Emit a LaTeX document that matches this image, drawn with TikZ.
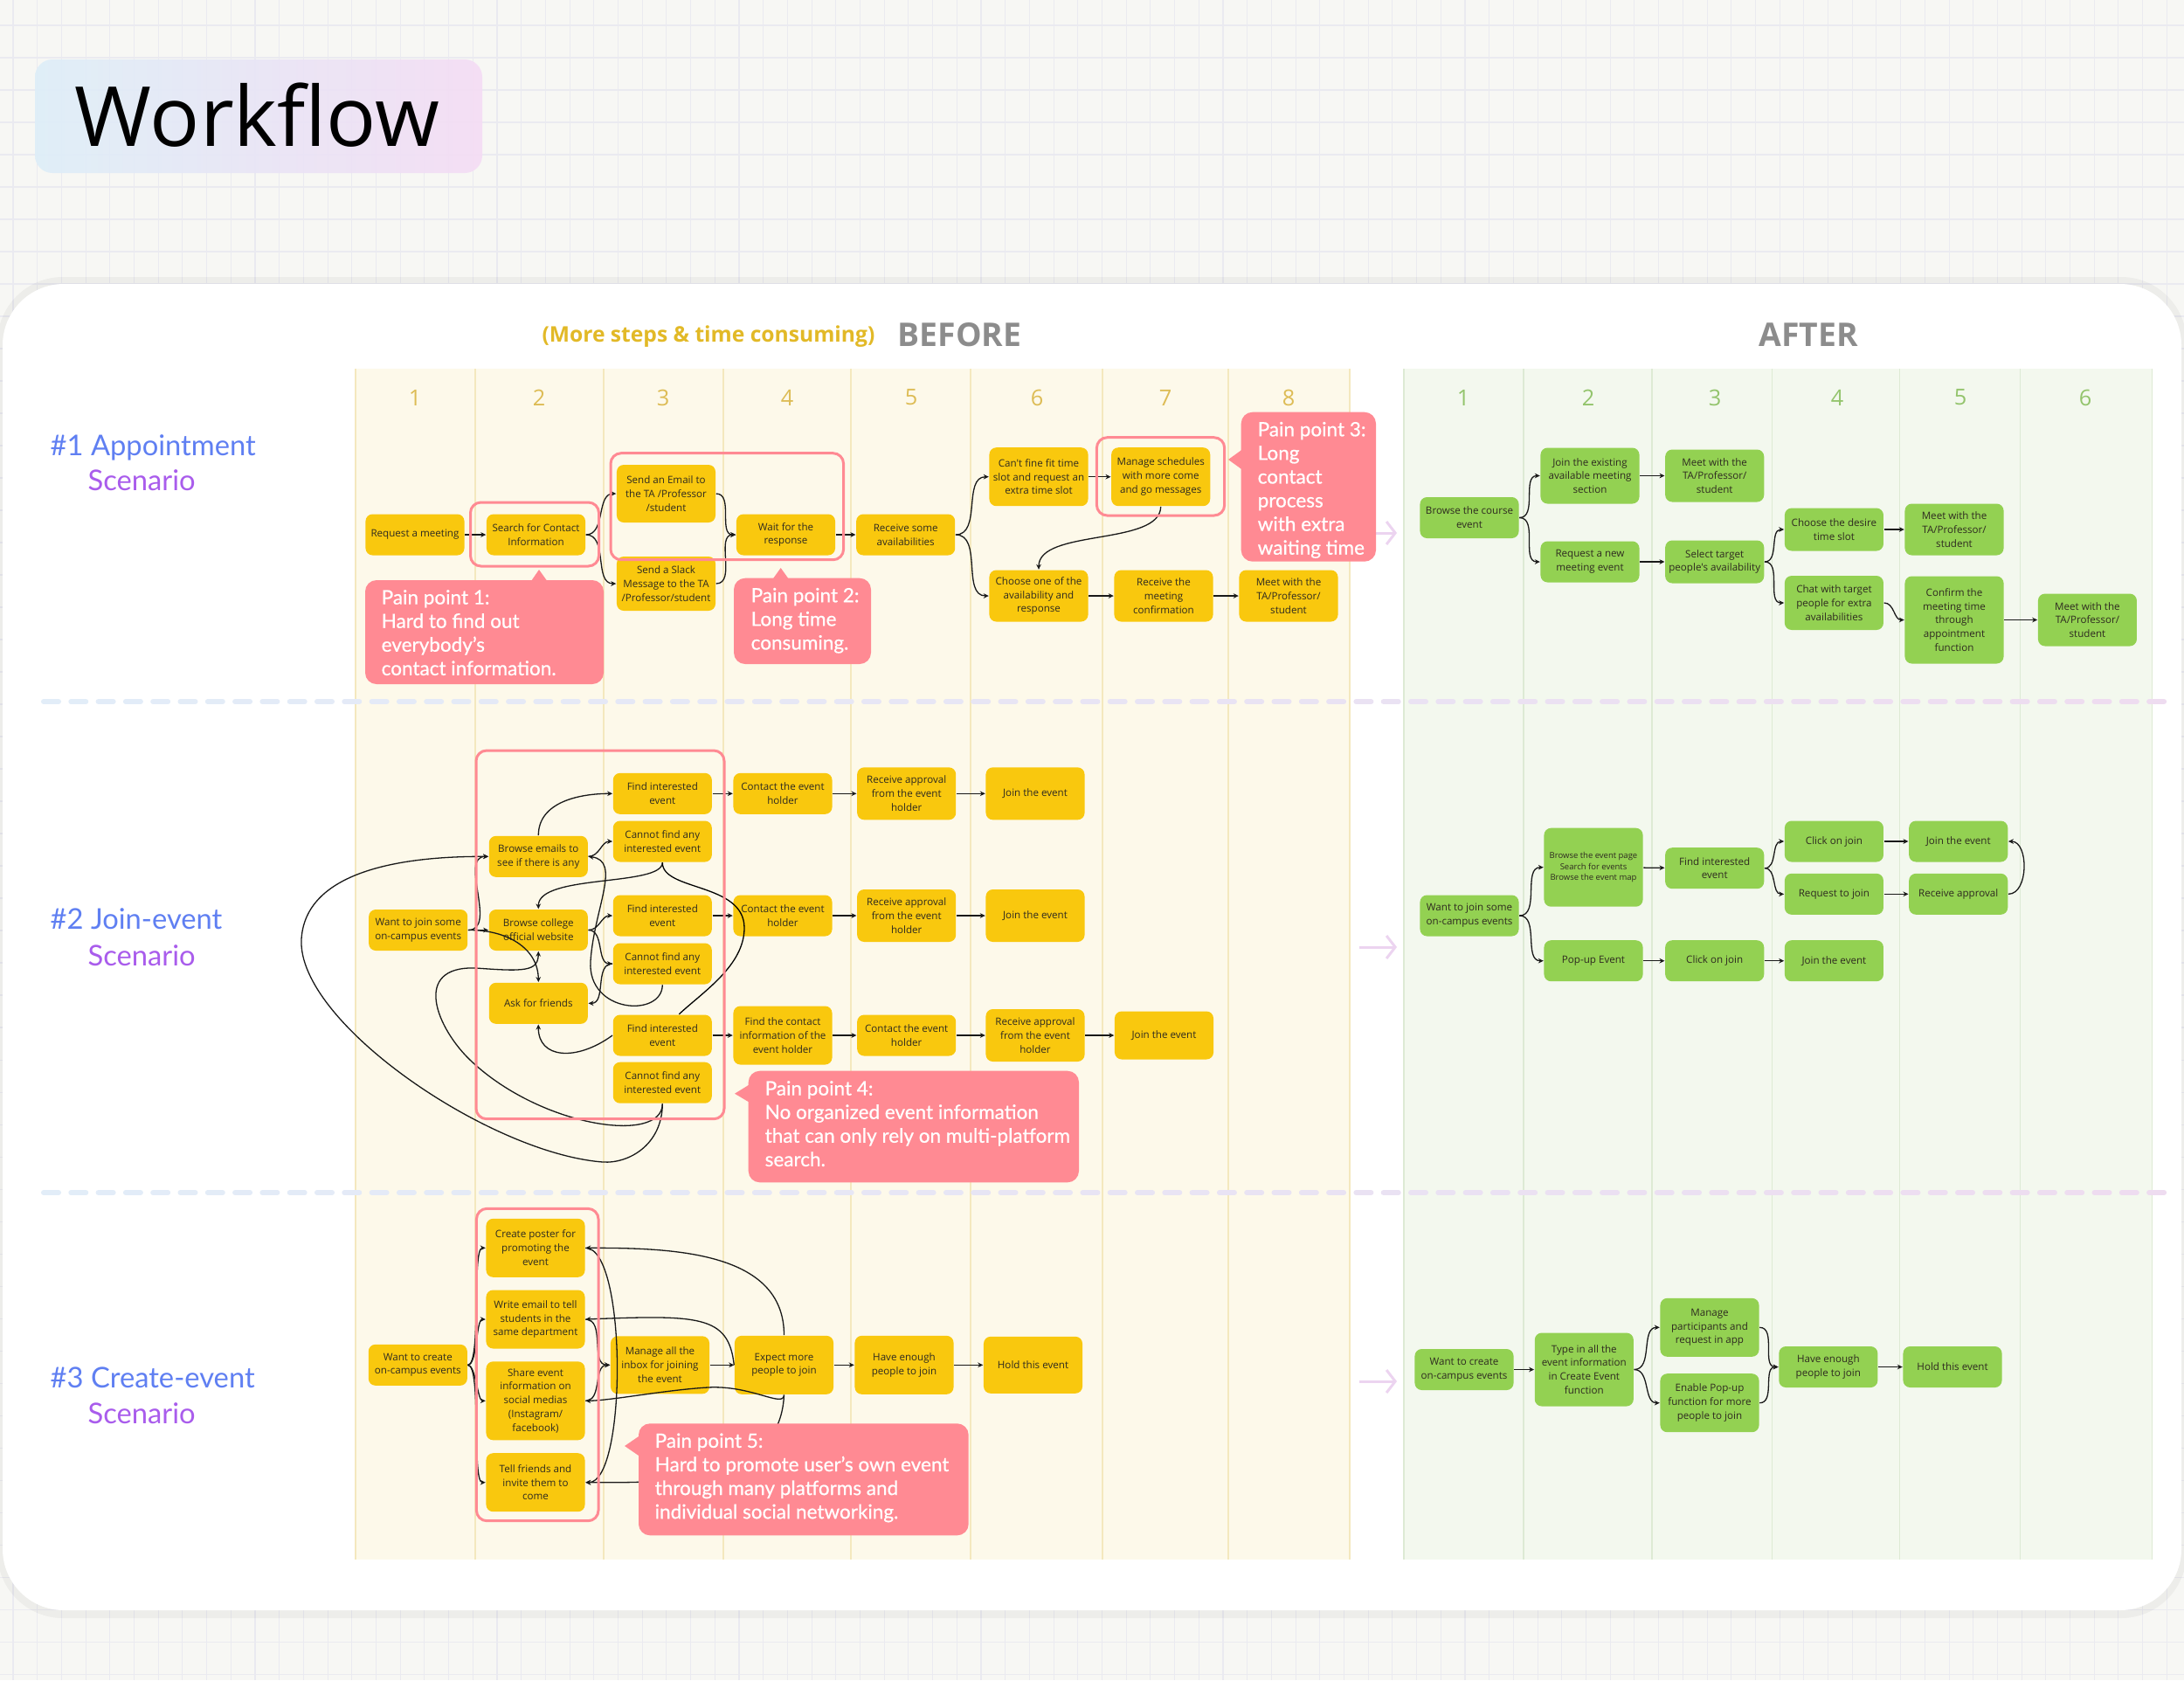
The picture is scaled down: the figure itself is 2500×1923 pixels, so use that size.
\documentclass[tikz,border=0pt]{standalone}
\usepackage{fontspec}
\setmainfont{Open Sans}
\newfontfamily\boxfont{Open Sans}
\newfontfamily\painfont[FakeBold=0.6]{Lato}
\newfontfamily\scenfont{Lato}
\usetikzlibrary{arrows.meta,calc}

\definecolor{paper}{HTML}{F7F7F4}
\definecolor{gridline}{HTML}{EAEAF0}
\definecolor{oldlane}{HTML}{FDF9EA}
\definecolor{oldrule}{HTML}{F4E8BE}
\definecolor{newlane}{HTML}{F3F8EE}
\definecolor{newrule}{HTML}{DDEAD4}
\definecolor{oldfill}{HTML}{F9C80E}
\definecolor{newfill}{HTML}{93D152}
\definecolor{pain}{HTML}{FF8A93}
\definecolor{oldnum}{HTML}{DDBC55}
\definecolor{newnum}{HTML}{93C46C}
\definecolor{headgray}{HTML}{8C8C8C}
\definecolor{headgold}{HTML}{E2B927}
\definecolor{sepblue}{HTML}{E2EDF8}
\definecolor{seppink}{HTML}{EEDCF0}
\definecolor{arrowpink}{HTML}{ECD4F0}
\definecolor{scenblue}{HTML}{5F7FF2}
\definecolor{scenpurple}{HTML}{A95CEC}
\definecolor{titleblue}{HTML}{DDEEF8}
\definecolor{titlepink}{HTML}{F4DCF4}
\definecolor{inktext}{HTML}{2E2A20}

\tikzset{
  stepbase/.style={rounded corners=0.08cm, inner sep=0pt, minimum width=1.13cm,
    minimum height=0.47cm, align=center, text=inktext,
    font=\boxfont\fontsize{3.3}{4.5}\selectfont},
  oldbox/.style={stepbase, fill=oldfill},
  newbox/.style={stepbase, fill=newfill},
  ht/.style={minimum height=#1*0.01cm},
  flow/.style={draw=black!90, line width=0.37pt, ->},
  painbox/.style={fill=pain, rounded corners=0.13cm},
  painnote/.style={anchor=north west, inner sep=0pt, align=left, text=white,
    font=\painfont\fontsize{6.4}{7.7}\selectfont},
  painframe/.style={draw=pain, line width=0.85pt, rounded corners=0.12cm},
  colnum/.style={font=\fontsize{7.2}{8}\selectfont},
  scenlabel/.style={anchor=base west, inner sep=0pt, font=\scenfont\fontsize{9.3}{11}\selectfont},
}

\begin{document}
\begin{tikzpicture}[x=0.01cm, y=-0.01cm, >={Stealth[length=1.7pt,width=1.6pt]}]
  \useasboundingbox (0,0) rectangle (2500,1923);

  % paper and grid
  \fill[paper] (0,0) rectangle (2500,1923);
  \foreach \gx in {15,42.7,...,2500}
    \draw[gridline, line width=0.3pt] (\gx,0) -- (\gx,1923);
  \foreach \gy in {29,66,...,1923}
    \draw[gridline, line width=0.3pt] (0,\gy) -- (2500,\gy);

  % title
  \shade[left color=titleblue, right color=titlepink, rounded corners=0.2cm, opacity=0.9]
    (40,68) rectangle (552,198);
  \node[anchor=base, font=\fontsize{27}{30}\selectfont] (title) at (294.5,167) {Workflow};

  % card
  \fill[black, opacity=0.04, rounded corners=0.75cm] (-3,317) rectangle (2503,1852);
  \fill[white, rounded corners=0.7cm] (3,325) rectangle (2497,1843);

  % headers
  \node[anchor=base, font=\bfseries\fontsize{7}{8}\selectfont, text=headgold] (costly) at (811,391) {(More steps \& time consuming)};
  \node[anchor=base, font=\bfseries\fontsize{10.6}{12}\selectfont, text=headgray] (before) at (1098.5,396.7) {BEFORE};
  \node[anchor=base, font=\bfseries\fontsize{10.6}{12}\selectfont, text=headgray] (after) at (2070,396.7) {AFTER};

  % lanes
  \fill[oldlane] (407,422) rectangle (1545,1785);
  \foreach \cx in {407,544,691,828,974,1111,1262,1406,1545}
    \draw[oldrule, line width=0.3pt] (\cx,422) -- (\cx,1785);
  \fill[newlane] (1607,422) rectangle (2463,1785);
  \foreach \cx in {1607,1744,1891,2028,2174,2312,2463}
    \draw[newrule, line width=0.3pt] (\cx,422) -- (\cx,1785);
  \foreach \n/\cx in {1/475,2/617,3/759,4/901,5/1043,6/1187,7/1334,8/1475}
    \node[colnum, text=oldnum] (oldcol\n) at (\cx,455) {\n};
  \foreach \n/\cx in {1/1675,2/1818,3/1963,4/2103,5/2244,6/2387}
    \node[colnum, text=newnum] (newcol\n) at (\cx,455) {\n};

  % separators
  \foreach \sy in {803,1365}{
    \foreach \k in {0,...,77}{
      \pgfmathsetmacro\dx{47+31.3*\k}
      \pgfmathtruncatemacro\mix{100-1.3*\k}
      \draw[sepblue!\mix!seppink, line width=0.06cm, line cap=round] (\dx+3,\sy) -- (\dx+20,\sy);
    }
  }

  % scenario names
  \node[scenlabel, text=scenblue] (sc1) at (57,521) {\#1 Appointment};
  \node[scenlabel, text=scenpurple] (sc1b) at (100,561) {Scenario};
  \node[scenlabel, text=scenblue] (sc2) at (57,1063) {\#2 Join-event};
  \node[scenlabel, text=scenpurple] (sc2b) at (100,1105) {Scenario};
  \node[scenlabel, text=scenblue] (sc3) at (57,1588) {\#3 Create-event};
  \node[scenlabel, text=scenpurple] (sc3b) at (100,1629) {Scenario};

  % before -> after
  \foreach \ay in {610,1084,1581}
    \draw[arrowpink, line width=0.85pt, -{Straight Barb[length=0.1cm,width=0.26cm]}] (1556,\ay) -- (1599,\ay);

  % Scenario 1: before
  \node[oldbox] (req) at (475,612) {Request a meeting};
  \node[oldbox] (search) at (613.5,612) {Search for Contact\\Information};
  \node[oldbox, ht=66] (email) at (762.5,565) {Send an Email to\\the TA /Professor\\/student};
  \node[oldbox, ht=62] (slack) at (762.5,668) {Send a Slack\\Message to the TA\\/Professor/student};
  \node[oldbox] (wait) at (899.5,612) {Wait for the\\response};
  \node[oldbox] (avail) at (1036.7,612) {Receive some\\availabilities};
  \node[oldbox, ht=67] (extra) at (1189,545.7) {Can't fine fit time\\slot and request an\\extra time slot};
  \node[oldbox, ht=67] (manage) at (1328.7,545.7) {Manage schedules\\with more come\\and go messages};
  \node[oldbox, ht=59] (choose) at (1189,682) {Choose one of the\\availability and\\response};
  \node[oldbox, ht=59] (confirm) at (1332,682) {Receive the\\meeting\\confirmation};
  \node[oldbox, ht=59] (meetA) at (1475,682) {Meet with the\\TA/Professor/\\student};

  \draw[flow] (req) -- (search);
  \draw[flow] (search.east) to[out=0,in=180] (email.west);
  \draw[flow] (search.east) to[out=0,in=180] (slack.west);
  \draw[flow] (email.east) to[out=0,in=180] (wait.west);
  \draw[flow] (slack.east) to[out=0,in=180] (wait.west);
  \draw[flow] (wait) -- (avail);
  \draw[flow] (avail.east) to[out=0,in=180] (extra.west);
  \draw[flow] (avail.east) to[out=0,in=180] (choose.west);
  \draw[flow] (extra) -- (manage);
  \draw[flow] (manage.south) .. controls (1328,625) and (1189,605) .. (choose.north);
  \draw[flow] (choose) -- (confirm);
  \draw[flow] (confirm) -- (meetA);

  % Scenario 1: after
  \node[newbox] (browse) at (1682,592.5) {Browse the course\\event};
  \node[newbox, ht=64] (joinold) at (1820,544.5) {Join the existing\\available meeting\\section};
  \node[newbox] (reqnew) at (1820,643) {Request a new\\meeting event};
  \node[newbox, ht=60] (meetB) at (1962.7,544.5) {Meet with the\\TA/Professor/\\student};
  \node[newbox, ht=49] (select) at (1962.7,643) {Select target\\people's availability};
  \node[newbox, ht=49] (desire) at (2099.4,606) {Choose the desire\\time slot};
  \node[newbox, ht=59] (meetC) at (2237,606) {Meet with the\\TA/Professor/\\student};
  \node[newbox, ht=62] (chat) at (2099.4,690) {Chat with target\\people for extra\\availabilities};
  \node[newbox, ht=100] (confirmapp) at (2237,709.5) {Confirm the\\meeting time\\through\\appointment\\function};
  \node[newbox, ht=60] (meetD) at (2389.4,709.5) {Meet with the\\TA/Professor/\\student};

  \draw[flow] (browse.east) to[out=0,in=180] (joinold.west);
  \draw[flow] (browse.east) to[out=0,in=180] (reqnew.west);
  \draw[flow] (joinold) -- (meetB);
  \draw[flow] (reqnew) -- (select);
  \draw[flow] (select.east) to[out=0,in=180] (desire.west);
  \draw[flow] (select.east) to[out=0,in=180] (chat.west);
  \draw[flow] (desire) -- (meetC);
  \draw[flow] (chat.east) to[out=0,in=180] (confirmapp.west);
  \draw[flow] (confirmapp) -- (meetD);

  % Scenario 2: before
  \node[oldbox] (want) at (478.7,1064.5) {Want to join some\\on-campus events};
  \node[oldbox] (mails) at (616.3,980.3) {Browse emails to\\see if there is any};
  \node[oldbox] (site) at (616.3,1064.5) {Browse college\\official website};
  \node[oldbox] (friends) at (616.3,1148.3) {Ask for friends};
  \node[oldbox] (findA) at (758.3,908.3) {Find interested\\event};
  \node[oldbox] (noneA) at (758.3,963) {Cannot find any\\interested event};
  \node[oldbox] (findB) at (758.3,1048) {Find interested\\event};
  \node[oldbox] (noneB) at (758.3,1103) {Cannot find any\\interested event};
  \node[oldbox] (findC) at (758.3,1185) {Find interested\\event};
  \node[oldbox] (noneC) at (758.3,1239.2) {Cannot find any\\interested event};
  \node[oldbox] (contactA) at (896,908.3) {Contact the event\\holder};
  \node[oldbox, ht=60] (approveA) at (1037.7,908.3) {Receive approval\\from the event\\holder};
  \node[oldbox, ht=60] (joinA) at (1185,908.3) {Join the event};
  \node[oldbox] (contactB) at (896,1048) {Contact the event\\holder};
  \node[oldbox, ht=60] (approveB) at (1037.7,1048) {Receive approval\\from the event\\holder};
  \node[oldbox, ht=60] (joinB) at (1185,1048) {Join the event};
  \node[oldbox, ht=67] (infoC) at (896,1185) {Find the contact\\information of the\\event holder};
  \node[oldbox] (contactC) at (1037.7,1185) {Contact the event\\holder};
  \node[oldbox, ht=60] (approveC) at (1185,1185) {Receive approval\\from the event\\holder};
  \node[oldbox, ht=55] (joinC) at (1332.5,1185) {Join the event};

  \draw[flow] (want) -- (site);
  \draw[flow] (want.east) to[out=0,in=180] (mails.west);
  \draw[flow] (want.east) .. controls (580,1064) and (616,1085) .. (friends.north);
  \draw[flow] (mails.north) to[out=90,in=180] (findA.west);
  \draw[flow] (mails.east) to[out=0,in=180] (noneA.west);
  \draw[flow] (site.east) to[out=0,in=180] (findB.west);
  \draw[flow] (site.east) to[out=0,in=180] (noneB.west);
  \draw[flow] (noneA.south) .. controls (758,1015) and (616,1000) .. (site.north);
  \draw[line width=0.37pt] (noneA.south) .. controls (758,1020) and (852,1010) .. (852,1062)
    .. controls (852,1105) and (805,1135) .. ($(findC.north)+(19,0)$);
  \draw[flow] (noneB.south) .. controls (758,1165) and (672,1160) .. (676,1100)
    .. controls (680,1040) and (712,985) .. (mails.east);
  \draw[flow] (noneB.west) to[out=180,in=0] (friends.east);
  \draw[flow] (findC.west) .. controls (660,1215) and (616,1212) .. (friends.south);
  \draw[flow] (noneC.south) .. controls (758,1310) and (620,1290) .. (540,1215)
    .. controls (500,1178) and (470,1105) .. (545,1108)
    .. controls (600,1112) and (616,1112) .. (site.south);
  \draw[flow] (noneC.south) .. controls (758,1310) and (720,1332) .. (690,1330)
    .. controls (560,1320) and (340,1170) .. (345,1075)
    .. controls (350,990) and (480,980) .. (mails.west);
  \draw[flow] (findA) -- (contactA);
  \draw[flow] (contactA) -- (approveA);
  \draw[flow] (approveA) -- (joinA);
  \draw[flow] (findB) -- (contactB);
  \draw[flow] (contactB) -- (approveB);
  \draw[flow] (approveB) -- (joinB);
  \draw[flow] (findC) -- (infoC);
  \draw[flow] (infoC) -- (contactC);
  \draw[flow] (contactC) -- (approveC);
  \draw[flow] (approveC) -- (joinC);

  % Scenario 2: after
  \node[newbox] (wantN) at (1682,1048) {Want to join some\\on-campus events};
  \node[newbox, ht=90, font=\boxfont\fontsize{2.7}{3.6}\selectfont] (pages) at (1824,992.7)
    {Browse the event page\\Search for events\\Browse the event map};
  \node[newbox] (popup) at (1824,1099.7) {Pop-up Event};
  \node[newbox] (findN) at (1962.7,993.7) {Find interested\\event};
  \node[newbox] (clickA) at (2099.4,963) {Click on join};
  \node[newbox] (askjoin) at (2099.4,1023.3) {Request to join};
  \node[newbox] (joinN) at (2241.7,963) {Join the event};
  \node[newbox] (approveN) at (2241.7,1023.3) {Receive approval};
  \node[newbox] (clickB) at (1962.7,1099.7) {Click on join};
  \node[newbox] (joinP) at (2099.4,1099.7) {Join the event};

  \draw[flow] (wantN.east) to[out=0,in=180] (pages.west);
  \draw[flow] (wantN.east) to[out=0,in=180] (popup.west);
  \draw[flow] (pages) -- (findN);
  \draw[flow] (findN.east) to[out=0,in=180] (clickA.west);
  \draw[flow] (findN.east) to[out=0,in=180] (askjoin.west);
  \draw[flow] (clickA) -- (joinN);
  \draw[flow] (askjoin) -- (approveN);
  \draw[flow] (approveN.east) to[out=0,in=0] (joinN.east);
  \draw[flow] (popup) -- (clickB);
  \draw[flow] (clickB) -- (joinP);

  % Scenario 3: before
  \node[oldbox] (create) at (478.3,1562.3) {Want to create\\on-campus events};
  \node[oldbox, ht=67] (poster) at (613,1428.3) {Create poster for\\promoting the\\event};
  \node[oldbox, ht=67] (mail) at (613,1510) {Write email to tell\\students in the\\same department};
  \node[oldbox, ht=90] (share) at (613,1603.3) {Share event\\information on\\social medias\\(Instagram/\\facebook)};
  \node[oldbox, ht=67] (tell) at (613,1696.7) {Tell friends and\\invite them to\\come};
  \node[oldbox, ht=66] (inbox) at (755.5,1562.3) {Manage all the\\inbox for joining\\the event};
  \node[oldbox, ht=67] (expect) at (897.5,1562.3) {Expect more\\people to join};
  \node[oldbox, ht=67] (enough) at (1035,1562.3) {Have enough\\people to join};
  \node[oldbox, ht=65] (hold) at (1182.5,1562.3) {Hold this event};

  \draw[flow] (create.east) to[out=0,in=180,looseness=0.3] (poster.west);
  \draw[flow] (create.east) to[out=0,in=180,looseness=0.5] (mail.west);
  \draw[flow] (create.east) to[out=0,in=180,looseness=0.5] (share.west);
  \draw[flow] (create.east) to[out=0,in=180,looseness=0.3] (tell.west);
  \draw[flow] (mail.east) to[out=0,in=180] (inbox.west);
  \draw[flow] (share.east) to[out=0,in=180] (inbox.west);
  \draw[flow] (inbox) -- (expect);
  \draw[flow] (expect.north) to[out=90,in=0] (poster.east);
  \draw[flow] (expect.west) .. controls (834,1505) and (800,1505) .. (mail.east);
  \draw[flow] (expect.south) .. controls (897,1612) and (860,1585) .. (810,1588)
    .. controls (760,1591) and (700,1603) .. (share.east);
  \draw[flow] (expect.south) .. controls (893,1700) and (760,1697) .. (tell.east);
  \draw[flow] (poster.east) .. controls (718,1428) and (718,1697) .. (tell.east);
  \draw[flow] (expect) -- (enough);
  \draw[flow] (enough) -- (hold);

  % Scenario 3: after
  \node[newbox] (createN) at (1676,1567.5) {Want to create\\on-campus events};
  \node[newbox, ht=84] (typein) at (1813.3,1567.5) {Type in all the\\event information\\in Create Event\\function};
  \node[newbox, ht=67] (participants) at (1957,1519.3) {Manage\\participants and\\request in app};
  \node[newbox, ht=67] (enable) at (1957,1605.7) {Enable Pop-up\\function for more\\people to join};
  \node[newbox] (enoughN) at (2092.8,1564.5) {Have enough\\people to join};
  \node[newbox] (holdN) at (2235,1564.5) {Hold this event};

  \draw[flow] (createN) -- (typein);
  \draw[flow] (typein.east) to[out=0,in=180] (participants.west);
  \draw[flow] (typein.east) to[out=0,in=180] (enable.west);
  \draw[flow] (participants.east) to[out=0,in=180] (enoughN.west);
  \draw[flow] (enable.east) to[out=0,in=180] (enoughN.west);
  \draw[flow] (enoughN) -- (holdN);

  % pain frames
  \draw[painframe] (538.5,575) rectangle (685.5,648);
  \draw[painframe] (699,518.7) rectangle (965.6,640.7);
  \draw[painframe] (1255.4,500.7) rectangle (1401.7,590);
  \draw[painframe] (545,859) rectangle (829,1280.7);
  \draw[painframe] (545.4,1383.3) rectangle (685,1740.7);

  % pain points
  \fill[pain] (606.7,667) -- (617,652) -- (627.7,667) -- cycle;
  \fill[painbox] (418,664) rectangle (691,783);
  \node[painnote] (pain1) at (436,674.5)
    {Pain point 1:\\Hard to find out\\everybody’s\\contact information.};

  \fill[pain] (883,665) -- (893.7,650) -- (904.4,665) -- cycle;
  \fill[painbox] (840,661.7) rectangle (997,760);
  \node[painnote] (pain2) at (859,672.2)
    {Pain point 2:\\Long time\\consuming.};

  \fill[pain] (1424,513) -- (1406,526) -- (1424,539) -- cycle;
  \fill[painbox] (1420.7,471.7) rectangle (1575,642.7);
  \node[painnote] (pain3) at (1439,482.2)
    {Pain point 3:\\Long\\contact\\process\\with extra\\waiting time};

  \fill[pain] (860,1240) -- (841,1251.7) -- (860,1263) -- cycle;
  \fill[painbox] (856.7,1225.7) rectangle (1235,1353.3);
  \node[painnote] (pain4) at (875,1236.5)
    {Pain point 4:\\No organized event information\\that can only rely on multi-platform\\search.};

  \fill[pain] (734,1642) -- (715,1655) -- (734,1668) -- cycle;
  \fill[painbox] (731,1629.3) rectangle (1108.7,1757.3);
  \node[painnote] (pain5) at (749,1639.8)
    {Pain point 5:\\Hard to promote user’s own event\\through many platforms and\\individual social networking.};
\end{tikzpicture}
\end{document}
